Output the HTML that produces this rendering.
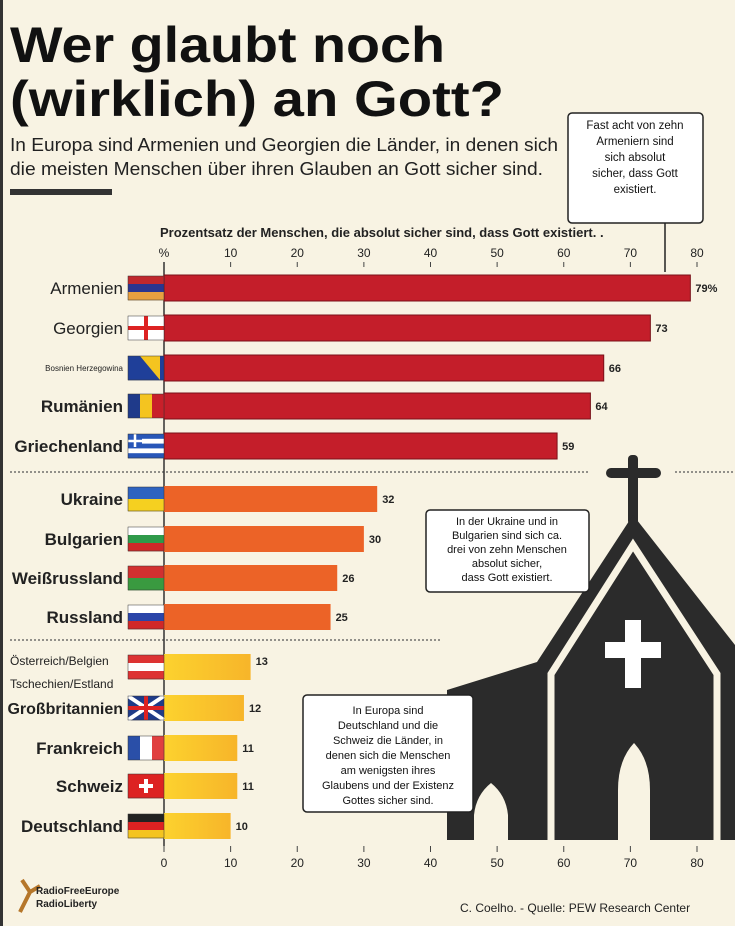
<!DOCTYPE html>
<html><head><meta charset="utf-8"><style>
html,body{margin:0;padding:0;background:#f8f3e3;}
svg{display:block;font-family:"Liberation Sans",sans-serif;}
</style></head><body>
<svg id="c" width="735" height="926" viewBox="0 0 735 926">
<defs>
<linearGradient id="yel" x1="0" x2="1"><stop offset="0" stop-color="#fcd22e"/><stop offset="1" stop-color="#f7b52a"/></linearGradient>
</defs>
<rect x="0" y="0" width="735" height="926" fill="#f8f3e3"/>
<rect x="0" y="0" width="3" height="926" fill="#333"/>
<text x="10" y="62" font-size="50" font-weight="bold" fill="#111" textLength="435" lengthAdjust="spacingAndGlyphs">Wer glaubt noch</text>
<text x="10" y="116" font-size="50" font-weight="bold" fill="#111" textLength="494" lengthAdjust="spacingAndGlyphs">(wirklich) an Gott?</text>
<text x="10" y="151" font-size="18" fill="#222" textLength="548" lengthAdjust="spacingAndGlyphs">In Europa sind Armenien und Georgien die Länder, in denen sich</text>
<text x="10" y="175" font-size="18" fill="#222" textLength="533" lengthAdjust="spacingAndGlyphs">die meisten Menschen über ihren Glauben an Gott sicher sind.</text>
<rect x="10" y="189" width="102" height="6" fill="#333"/>
<g>
<line x1="665" y1="222" x2="665" y2="272" stroke="#222" stroke-width="1.5"/>
<rect x="568" y="113" width="135" height="110" rx="4" fill="#fff" stroke="#222" stroke-width="1.5"/>
<text font-size="11.5" text-anchor="middle" fill="#111"><tspan x="635" y="129">Fast acht von zehn</tspan><tspan x="635" y="145">Armeniern sind</tspan><tspan x="635" y="161">sich absolut</tspan><tspan x="635" y="177">sicher, dass Gott</tspan><tspan x="635" y="193">existiert.</tspan></text>
</g>
<text x="160" y="237" font-size="13" font-weight="bold" fill="#222">Prozentsatz der Menschen, die absolut sicher sind, dass Gott existiert. .</text>
<g id="church">
<rect x="628" y="455" width="10" height="70" rx="4" fill="#2b2b2b"/>
<rect x="606" y="468" width="55" height="10" rx="5" fill="#2b2b2b"/>
<polygon points="633,515 735,645 735,840 447,840 447,690 537,662" fill="#2b2b2b"/>
<polyline points="551,840 551,674 633,545 717,674 717,840" fill="none" stroke="#f8f3e3" stroke-width="7"/>
<path d="M625,620 h16 v22 h20 v16 h-20 v30 h-16 v-30 h-20 v-16 h20z" fill="#fff"/>
<path d="M618,840 V790 Q618,760 634,743 Q650,760 650,790 V840Z" fill="#f8f3e3"/>
<path d="M474,840 V815 Q476,795 491,783 Q506,795 508,815 V840Z" fill="#f8f3e3"/>
</g>
<line x1="10" y1="472" x2="590" y2="472" stroke="#555" stroke-width="1.2" stroke-dasharray="2,2"/>
<line x1="675" y1="472" x2="735" y2="472" stroke="#555" stroke-width="1.2" stroke-dasharray="2,2"/>
<line x1="10" y1="640" x2="440" y2="640" stroke="#555" stroke-width="1.2" stroke-dasharray="2,2"/>
<g id="axes"></g>
<g id="bars"></g>
<g>
<rect x="426" y="510" width="163" height="82" rx="4" fill="#fff" stroke="#222" stroke-width="1.5"/>
<text font-size="11" text-anchor="middle" fill="#111"><tspan x="507" y="525">In der Ukraine und in</tspan><tspan x="507" y="539">Bulgarien sind sich ca.</tspan><tspan x="507" y="553">drei von zehn Menschen</tspan><tspan x="507" y="567">absolut sicher,</tspan><tspan x="507" y="581">dass Gott existiert.</tspan></text>
</g>
<g>
<rect x="303" y="695" width="170" height="117" rx="4" fill="#fff" stroke="#222" stroke-width="1.5"/>
<text font-size="11" text-anchor="middle" fill="#111"><tspan x="388" y="714">In Europa sind</tspan><tspan x="388" y="729">Deutschland und die</tspan><tspan x="388" y="744">Schweiz die Länder, in</tspan><tspan x="388" y="759">denen sich die Menschen</tspan><tspan x="388" y="774">am wenigsten ihres</tspan><tspan x="388" y="789">Glaubens und der Existenz</tspan><tspan x="388" y="804">Gottes sicher sind.</tspan></text>
</g>
<g>
<path d="M22,880 l8,12 l-10,20 M30,892 l10,-6" stroke="#b5762a" stroke-width="4" fill="none"/>
<text x="36" y="894" font-size="10" font-weight="bold" fill="#222">RadioFreeEurope</text>
<text x="36" y="907" font-size="10" font-weight="bold" fill="#222">RadioLiberty</text>
</g>
<text x="460" y="912" font-size="12" fill="#222">C. Coelho. - Quelle: PEW Research Center</text>
</svg>
<script>
const countries=["Armenien","Georgien","Bosnien Herzegowina","Rumänien","Griechenland","Ukraine","Bulgarien","Weißrussland","Russland","Österreich/Belgien Tschechien/Estland","Großbritannien","Frankreich","Schweiz","Deutschland"];
const values=[79,73,66,64,59,32,30,26,25,13,12,11,11,10];
const groups=[0,0,0,0,0,1,1,1,1,2,2,2,2,2];
const valueLabels=["79%","73","66","64","59","32","30","26","25","13","12","11","11","10"];
const topTicks=["%","10","20","30","40","50","60","70","80"];
const bottomTicks=["0","10","20","30","40","50","60","70","80"];
const tickValues=[0,10,20,30,40,50,60,70,80];
const NS="http://www.w3.org/2000/svg";
const x=v=>164+v*(533/80);
const rowY=[288,328,368,406,446,499,539,578,617,667,708,748,786,826];
const y=i=>rowY[i];
const colors=["#c41e2a","#ec6327","url(#yel)"];
const flagStripes=[["h","#c0282d","#2a3590","#e8a040"],["h","#fff"],["h","#1f3f99"],["v","#1f3a8a","#f4c420","#c8202a"],["h","#2856b8","#fff","#2856b8","#fff","#2856b8"],["h","#2e63c0","#f5d020"],["h","#fff","#2f9a4a","#d02828"],["h","#d23030","#3a9a40"],["h","#fff","#2a45a8","#d02828"],["h","#d33","#fff","#d33"],["h","#1f3b88"],["v","#2a4fa8","#fff","#e04040"],["h","#d22"],["h","#222","#d22","#f4c420"]];
function mk(t,a,p){const e=document.createElementNS(NS,t);for(const k in a)e.setAttribute(k,a[k]);p.appendChild(e);return e;}
const ax=document.getElementById('axes');
const bs=document.getElementById('bars');
tickValues.forEach((v,i)=>{
 const t1=mk('text',{x:x(v),y:257,'font-size':12,'text-anchor':'middle',fill:'#222'},ax);t1.textContent=topTicks[i];
 
 
 if(i>0){const m=mk('line',{x1:x(v),x2:x(v),y1:262,y2:267,stroke:'#444'},ax);
 
 }
 const t2=mk('text',{x:x(v),y:867,'font-size':12,'text-anchor':'middle',fill:'#222'},ax);t2.textContent=bottomTicks[i];
 
 
 const m2=mk('line',{x1:x(v),x2:x(v),y1:846,y2:852,stroke:'#444'},ax);
 
 
});
values.forEach((v,i)=>{
 const cy=y(i),h=26;
 const r=mk('rect',{x:x(0),y:cy-h/2,width:x(v)-x(0),height:h,fill:colors[groups[i]],stroke:groups[i]==0?'#7a1018':'none','stroke-width':1},bs);
 
 
 const vl=mk('text',{x:x(v)+5,y:cy+ (i==9?-2:4),'font-size':11,'font-weight':'bold',fill:'#222'},bs);vl.textContent=valueLabels[i];
 
 
 const g=mk('g',{},bs);
 
 
 const fs=flagStripes[i],n=fs.length-1;
 for(let k=0;k<n;k++){
  if(fs[0]=="h")mk('rect',{x:128,y:cy-12+k*24/n,width:36,height:24/n+0.3,fill:fs[k+1]},g);
  else mk('rect',{x:128+k*36/n,y:cy-12,width:36/n+0.3,height:24,fill:fs[k+1]},g);
 }
 if(i==1){mk('rect',{x:144,y:cy-12,width:4,height:24,fill:'#d22'},g);mk('rect',{x:128,y:cy-2,width:36,height:4,fill:'#d22'},g);}
 if(i==2){mk('polygon',{points:(140)+','+(cy-12)+' '+(160)+','+(cy-12)+' '+(160)+','+(cy+12),fill:'#f4c420'},g);}
 if(i==10){mk('path',{d:'M128,'+(cy-12)+' L164,'+(cy+12)+' M164,'+(cy-12)+' L128,'+(cy+12),stroke:'#fff','stroke-width':4},g);mk('path',{d:'M146,'+(cy-12)+' V'+(cy+12)+' M128,'+cy+' H164',stroke:'#d22','stroke-width':4},g);}
 if(i==12){mk('path',{d:'M146,'+(cy-7)+' V'+(cy+7)+' M139,'+cy+' H153',stroke:'#fff','stroke-width':4},g);}
 if(i==4){mk('rect',{x:128,y:cy-12,width:14,height:13,fill:'#2856b8'},g);mk('path',{d:'M135,'+(cy-12)+' V'+(cy+1)+' M128,'+(cy-5)+' H142',stroke:'#fff','stroke-width':2.5},g);}
 mk('rect',{x:128,y:cy-12,width:36,height:24,fill:'none',stroke:'#333','stroke-width':0.5},g);
 if(i==9){
  [["Österreich/Belgien",cy-2],["Tschechien/Estland",cy+21]].forEach(p=>{const t=mk('text',{x:10,y:p[1],'font-size':12,fill:'#222'},bs);t.textContent=p[0];
  
  });
 } else {
  const small=i==2;
  const t=mk('text',{x:123,y:cy+(small?3:6),'font-size':small?8:(i==10?16:17),'font-weight':(i>=3?'bold':'normal'),'text-anchor':'end',fill:'#222'},bs);t.textContent=countries[i];
  
  
 }
});
const z=mk('line',{x1:x(0),x2:x(0),y1:262,y2:846,stroke:'#333','stroke-width':1.5},ax);


</script>
</body></html>
